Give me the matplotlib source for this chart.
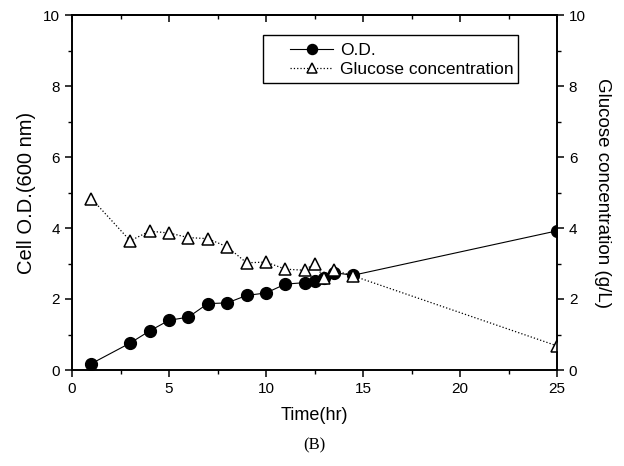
import matplotlib
matplotlib.use("Agg")
import matplotlib.pyplot as plt
from matplotlib.ticker import MultipleLocator
from matplotlib.patches import Rectangle

plt.rcParams['font.family'] = ['Liberation Sans', 'DejaVu Sans']

# Cell growth (O.D. at 600 nm) over time
od_time = [1, 3, 4, 5, 6, 7, 8, 9, 10, 11, 12, 12.5, 13, 13.5, 14.5, 25]
od_values = [0.18, 0.76, 1.10, 1.40, 1.49, 1.87, 1.89, 2.10, 2.17, 2.42, 2.46, 2.50, 2.58, 2.74, 2.67, 3.92]

# Residual glucose concentration (g/L)
glc_time = [1, 3, 4, 5, 6, 7, 8, 9, 10, 11, 12, 12.5, 13, 13.5, 14.5, 25]
glc_values = [4.83, 3.64, 3.91, 3.86, 3.73, 3.70, 3.47, 3.02, 3.04, 2.84, 2.81, 3.00, 2.58, 2.81, 2.65, 0.68]

x_ticks = [0, 5, 10, 15, 20, 25]
y_ticks = [0, 2, 4, 6, 8, 10]

W, H = 624, 466
fig = plt.figure(figsize=(W / 100, H / 100), dpi=100)
ax = fig.add_axes([72 / W, 96 / H, 485 / W, 355 / H])
ax2 = ax.twinx()

l1, = ax.plot(od_time, od_values, '-', color='black', lw=0.8,
              marker='o', ms=8.5, mfc='black', mec='black', label='O.D.')
l2, = ax2.plot(glc_time, glc_values, ':', color='black', lw=0.9,
               marker='^', ms=9, mfc='white', mec='black', mew=1.1,
               label='Glucose concentration')

for a in (ax, ax2):
    a.set_xlim(0, 25)
    a.set_ylim(0, 10)
    for s in a.spines.values():
        s.set_linewidth(1.2)

ax.set_xticks(x_ticks)
ax.set_yticks(y_ticks)
ax2.set_yticks(y_ticks)
ax.xaxis.set_minor_locator(MultipleLocator(2.5))
ax.yaxis.set_minor_locator(MultipleLocator(1))
ax2.yaxis.set_minor_locator(MultipleLocator(1))

ax.tick_params(axis='both', which='major', direction='out', length=5, width=1.1,
               labelsize=11, top=False, right=False)
ax.tick_params(axis='both', which='minor', direction='out', length=3, width=1.0,
               top=False, right=False)
ax2.tick_params(axis='y', which='major', direction='out', length=5, width=1.1, labelsize=11)
ax2.tick_params(axis='y', which='minor', direction='out', length=3, width=1.0)

# Inward ticks along the top edge
top = ax.secondary_xaxis('top')
top.set_xticks(x_ticks)
top.xaxis.set_minor_locator(MultipleLocator(2.5))
top.tick_params(which='major', direction='in', length=5, width=1.1, labeltop=False)
top.tick_params(which='minor', direction='in', length=3, width=1.0)
top.spines['top'].set_linewidth(1.2)

ax.set_xlabel('Time(hr)', fontsize=13, labelpad=8)
ax.set_ylabel('Cell O.D.(600 nm)', fontsize=14.5, labelpad=5)
ax2.set_ylabel('Glucose concentration (g/L)', fontsize=13.5, rotation=-90,
               labelpad=18)

# Legend entries without their own frame, boxed separately
leg = ax.legend(handles=[l1, l2], loc='upper left',
                bbox_to_anchor=(290 / W, 1 - 43 / H), bbox_transform=fig.transFigure,
                fontsize=12.5, frameon=False, handlelength=2.5, handletextpad=0.4,
                borderpad=0, labelspacing=0.2, borderaxespad=0, markerscale=0.85)
fig.add_artist(Rectangle((263 / W, 1 - 83 / H), 255 / W, 48 / H,
                         transform=fig.transFigure, fill=False,
                         edgecolor='black', lw=1.0))

fig.text(314 / W, 1 - 445 / H, '(B)', ha='center', va='center',
         fontsize=12, family=['Liberation Serif', 'DejaVu Serif'])

fig.savefig('out.png', dpi=100)
